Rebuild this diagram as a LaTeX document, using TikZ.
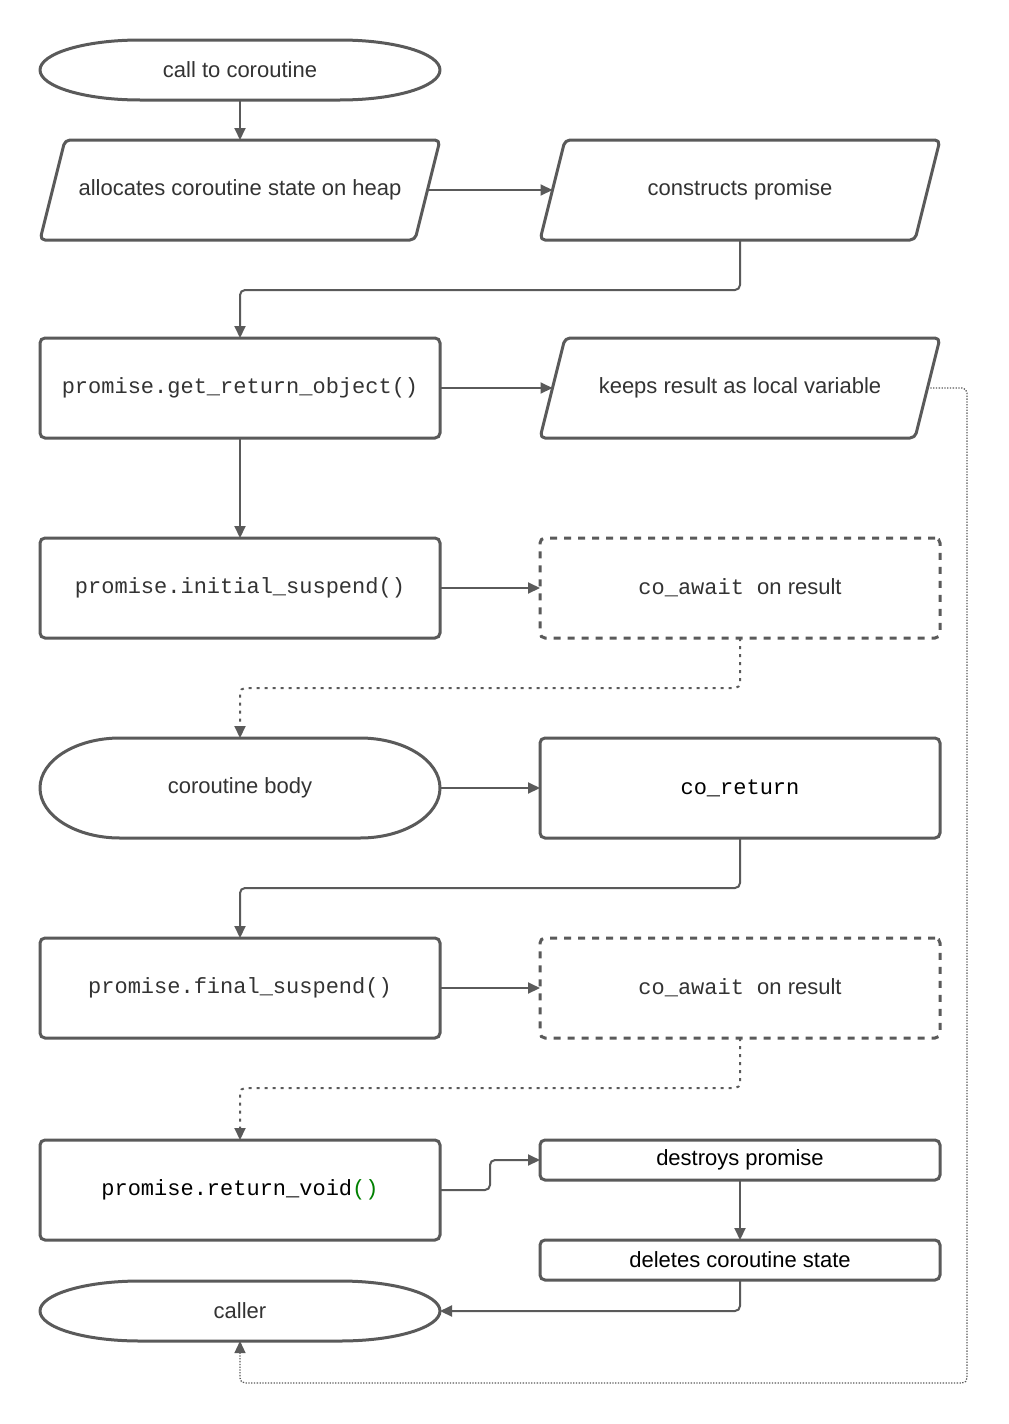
\documentclass[tikz,border=0pt]{standalone}
\usepackage{fontspec}
\setmainfont{Liberation Sans}
\setmonofont{Liberation Mono}
\usetikzlibrary{arrows.meta,calc}
\definecolor{ln}{HTML}{5A5A5A}
\definecolor{tx}{HTML}{333333}
\definecolor{gr}{HTML}{008000}
\newcommand\drawterm[3]{\draw[tshp] ($(#1.north west)+(#2,0)$) -- ($(#1.north east)+(-#2,0)$) arc[start angle=-90,end angle=90,x radius=#2,y radius=#3] -- ($(#1.south west)+(#2,0)$) arc[start angle=90,end angle=270,x radius=#2,y radius=#3] -- cycle;}
\newcommand\drawpara[1]{\draw[shp] ($(#1.south west)+(-12.5,0)$) -- ($(#1.north west)+(12.5,0)$) -- ($(#1.north east)+(12.5,0)$) -- ($(#1.south east)+(-12.5,0)$) -- cycle;}
\begin{document}
\begin{tikzpicture}[x=1pt,y=-1pt,
  every node/.style={inner sep=0pt,outer sep=0pt,text=tx,font=\fontsize{22}{26}\selectfont},
  shp/.style={draw=ln,line width=3pt,rounded corners=5pt,line join=round},
  tshp/.style={draw=ln,line width=3pt,line join=round},
  bx/.style={draw=ln,line width=3pt,rounded corners=5pt,minimum width=400pt,minimum height=100pt},
  dbx/.style={bx,dash pattern=on 7pt off 7pt},
  sbx/.style={bx,minimum height=40pt,text=black},
  pg/.style={minimum width=375pt,minimum height=100pt},
  term/.style={minimum width=400pt,minimum height=#1},
  conn/.style={draw=ln,line width=2pt,rounded corners=5pt,-{Triangle[length=12pt,width=11pt]}},
  dconn/.style={conn,dash pattern=on 3pt off 5pt},
  fconn/.style={conn,line width=1.3pt,dash pattern=on 1.3pt off 1.5pt},
  code/.style={font=\ttfamily\fontsize{22}{26}\selectfont},
]
\useasboundingbox[fill=white] (0,0) rectangle (1009,1424);

% terminals
\node[term=60pt] (call) at (240,70) {call to coroutine};
\drawterm{call}{100}{30}
\node[term=100pt] (body) at (240,788) {coroutine body};
\drawterm{body}{80}{50}
\node[term=60pt] (caller) at (240,1311) {caller};
\drawterm{caller}{100}{30}

% parallelograms
\node[pg] (alloc) at (240,190) {allocates coroutine state on heap};
\drawpara{alloc}
\node[pg] (cons) at (740,190) {constructs promise};
\drawpara{cons}
\node[pg] (keep) at (740,388) {keeps result as local variable};
\drawpara{keep}

% boxes
\node[bx,code] (gro) at (240,388) {promise.get\_return\_object()};
\node[bx,code] (init) at (240,588) {promise.initial\_suspend()};
\node[dbx] (aw1) at (740,588) {{\ttfamily co\_await\ }on result};
\node[bx,code,text=black] (ret) at (740,788) {co\_return};
\node[bx,code] (fin) at (240,988) {promise.final\_suspend()};
\node[dbx] (aw2) at (740,988) {{\ttfamily co\_await\ }on result};
\node[bx,code,text=black] (rv) at (240,1190) {promise.return\_void\textcolor{gr}{()}};
\node[sbx] (destr) at (740,1160) {\raisebox{-2pt}{destroys promise}};
\node[sbx] (del) at (740,1260) {\raisebox{-2pt}{deletes coroutine state}};
\coordinate (loop) at (967,1383);

% connectors
\draw[conn] (call.south) -- (alloc.north);
\draw[conn] (alloc.east) -- (cons.west);
\draw[conn] (cons.south) -- ++(0,50) -| (gro.north);
\draw[conn] (gro.east) -- (keep.west);
\draw[conn] (gro.south) -- (init.north);
\draw[conn] (init.east) -- (aw1.west);
\draw[dconn] (aw1.south) -- ++(0,50) -| (body.north);
\draw[conn] (body.east) -- (ret.west);
\draw[conn] (ret.south) -- ++(0,50) -| (fin.north);
\draw[conn] (fin.east) -- (aw2.west);
\draw[dconn] (aw2.south) -- ++(0,50) -| (rv.north);
\draw[conn] (rv.east) -- ++(50,0) |- (destr.west);
\draw[conn] (destr.south) -- (del.north);
\draw[conn] (del.south) |- (caller.east);
\draw[fconn] (keep.east) -| (loop) -| (caller.south);
\end{tikzpicture}
\end{document}
